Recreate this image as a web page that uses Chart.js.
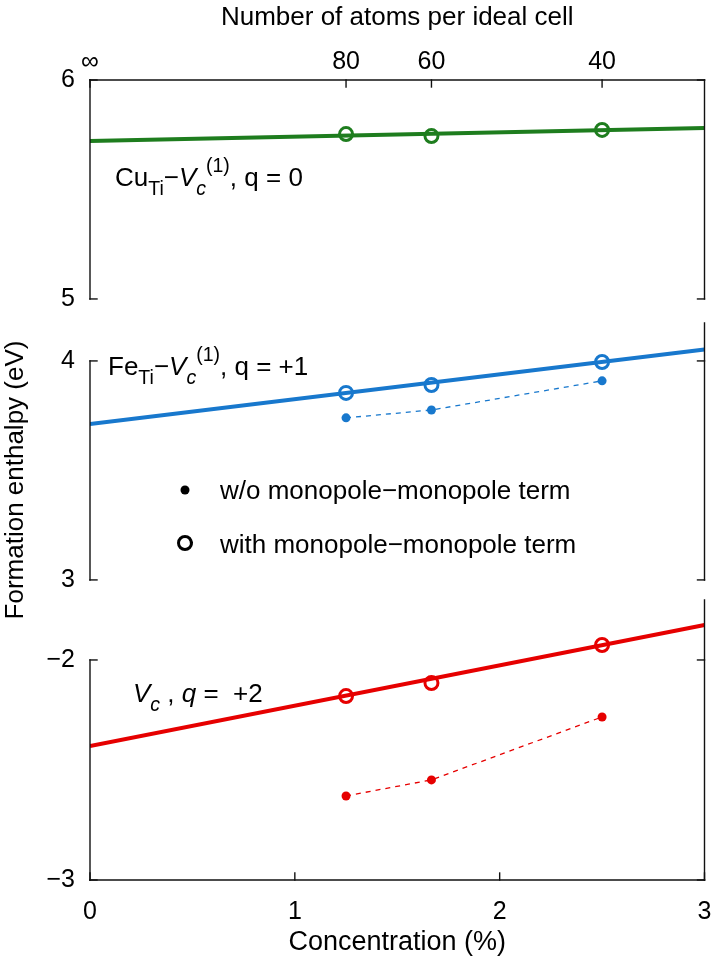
<!DOCTYPE html>
<html>
<head>
<meta charset="utf-8">
<script src="https://cdn.jsdelivr.net/npm/chart.js@4.4.1/dist/chart.umd.min.js"></script>
<style>
  html, body { margin: 0; padding: 0; background: #fff; }
  #chart { display: block; }
</style>
</head>
<body>
<canvas id="chart" width="714" height="963"></canvas>
<script>
// concentration (%) of the 80, 60 and 40 atom cells
const concentration = [1.25, 1.667, 2.5];
const fitX = [0, 3];

// top axis: number of atoms per ideal cell
const topTickPos = [0, 1.25, 1.667, 2.5];
const topTickLabels = ['\u221e', '80', '60', '40'];
const xTicks = [0, 1, 2, 3];

// Cu_Ti - Vc, q = 0
const cuTicks = [5, 6];
const cuWith = [5.753, 5.744, 5.772];
const cuFit = [5.721, 5.781];

// Fe_Ti - Vc, q = +1
const feTicks = [3, 4];
const feWith = [3.854, 3.890, 3.995];
const feWithout = [3.740, 3.776, 3.909];
const feFit = [3.712, 4.052];

// Vc, q = +2
const vcTicks = [-3, -2];
const vcWith = [-2.164, -2.105, -1.932];
const vcWithout = [-2.618, -2.545, -2.259];
const vcFit = [-2.391, -1.841];

const GREEN = '#1e7d1e';
const BLUE = '#1878cd';
const RED = '#e60000';
const FONT = '"Liberation Sans", Arial, Helvetica, sans-serif';

const pts = (xs, ys) => xs.map((x, i) => ({ x: x, y: ys[i] }));

function fitSet(data, axis, color) {
  return { data: data, yAxisID: axis, borderColor: color, borderWidth: 4, pointRadius: 0, fill: false };
}
function withSet(data, axis, color) {
  return { data: data, yAxisID: axis, showLine: false, pointRadius: 6.5, pointBorderWidth: 3,
    pointBorderColor: color, pointBackgroundColor: 'rgba(0,0,0,0)' };
}
function withoutSet(data, axis, color) {
  return { data: data, yAxisID: axis, borderColor: color, borderWidth: 1.3, borderDash: [5, 5],
    pointRadius: 4.5, pointBorderWidth: 0, pointBackgroundColor: color, fill: false };
}

function fixedTicks(values) {
  return scale => { scale.ticks = values.map(v => ({ value: v })); };
}
const minusLabel = v => (v < 0 ? '\u2212' + Math.abs(v) : String(v));

// keep the plot area at a fixed place: no extra room for half-labels
function fixSize(prop, size) {
  return s => {
    s[prop] = size;
    s.paddingLeft = 0; s.paddingRight = 0; s.paddingTop = 0; s.paddingBottom = 0;
  };
}

function yAxis(ticks, min, max, weight) {
  return {
    type: 'linear', position: 'left', stack: 'panels', stackWeight: weight,
    min: min, max: max,
    afterBuildTicks: fixedTicks(ticks),
    afterFit: fixSize('width', 90),
    grid: { display: false, drawTicks: false },
    border: { display: false },
    ticks: { color: '#000', padding: 15, font: { family: FONT, size: 25 }, callback: minusLabel }
  };
}

// panel frames (R style: left axis line spans the ticks, right border spans the panel)
const panels = [
  { axis: 'yCu', ticks: cuTicks, frameTop: 6, topBorder: true },
  { axis: 'yFe', ticks: feTicks, frameTop: 4.174 },
  { axis: 'yVc', ticks: vcTicks, frameTop: -1.727, bottomBorder: true }
];

// rich text pieces for panel labels
const panelLabels = [
  { axis: 'yCu', x: 0.122, y: 5.516, parts: [
    { t: 'Cu' }, { t: 'Ti', s: 'sub' }, { t: '\u2212' }, { t: 'V', i: true }, { t: 'c', i: true, s: 'sub' },
    { t: '(1)', s: 'sup' }, { t: ', q = 0' } ] },
  { axis: 'yFe', x: 0.088, y: 3.936, parts: [
    { t: 'Fe' }, { t: 'Ti', s: 'sub' }, { t: '\u2212' }, { t: 'V', i: true }, { t: 'c', i: true, s: 'sub' },
    { t: '(1)', s: 'sup' }, { t: ', q = +1' } ] },
  { axis: 'yVc', x: 0.21, y: -2.191, parts: [
    { t: 'V', i: true }, { t: 'c', i: true, s: 'sub' }, { t: ' , ' }, { t: 'q', i: true }, { t: ' =  +2' } ] }
];

function drawRich(ctx, x, y, parts, size) {
  let cx = x;
  ctx.textBaseline = 'alphabetic';
  ctx.textAlign = 'left';
  parts.forEach(p => {
    const sz = p.s ? size * 0.75 : size;
    ctx.font = (p.i ? 'italic ' : '') + sz + 'px ' + FONT;
    const dy = p.s === 'sub' ? size * 0.33 : (p.s === 'sup' ? -size * 0.52 : 0);
    ctx.fillText(p.t, cx, y + dy);
    cx += ctx.measureText(p.t).width;
  });
}

const decor = {
  id: 'decor',
  afterDraw(chart) {
    const { ctx, chartArea: a, scales } = chart;
    const tl = 7;
    ctx.save();
    ctx.strokeStyle = '#111';
    ctx.lineWidth = 1.4;
    ctx.lineCap = 'square';
    const line = (x1, y1, x2, y2) => { ctx.beginPath(); ctx.moveTo(x1, y1); ctx.lineTo(x2, y2); ctx.stroke(); };

    panels.forEach(p => {
      const ys = scales[p.axis];
      const top = ys.getPixelForValue(p.frameTop);
      const bottom = ys.getPixelForValue(Math.min(...p.ticks));
      const tickTop = ys.getPixelForValue(Math.max(...p.ticks));
      line(a.left, tickTop, a.left, bottom);
      line(a.right, top, a.right, bottom);
      p.ticks.forEach(t => {
        const py = ys.getPixelForValue(t);
        line(a.left, py, a.left + tl, py);
        line(a.right, py, a.right - tl, py);
      });
      if (p.topBorder) {
        line(a.left, top, a.right, top);
        topTickPos.forEach(v => {
          const px = scales.xTop.getPixelForValue(v);
          line(px, top, px, top + tl);
        });
      }
      if (p.bottomBorder) {
        line(a.left, bottom, a.right, bottom);
        xTicks.forEach(v => {
          const px = scales.x.getPixelForValue(v);
          line(px, bottom, px, bottom - tl);
        });
      }
    });

    // panel labels
    ctx.fillStyle = '#000';
    panelLabels.forEach(l => {
      drawRich(ctx, scales.x.getPixelForValue(l.x), scales[l.axis].getPixelForValue(l.y), l.parts, 26);
    });

    // legend
    const lx = 185, ly1 = 490, ly2 = 543, tx = 220;
    ctx.fillStyle = '#000';
    ctx.beginPath(); ctx.arc(lx, ly1, 4.5, 0, Math.PI * 2); ctx.fill();
    ctx.lineWidth = 3; ctx.strokeStyle = '#000';
    ctx.beginPath(); ctx.arc(lx, ly2, 6.5, 0, Math.PI * 2); ctx.stroke();
    ctx.font = '26px ' + FONT;
    ctx.textBaseline = 'middle';
    ctx.textAlign = 'left';
    ctx.fillText('w/o monopole\u2212monopole term', tx, ly1 + 2);
    ctx.fillText('with monopole\u2212monopole term', tx, ly2 + 3);

    // y title spanning the three panels
    ctx.translate(16, (a.top + a.bottom) / 2);
    ctx.rotate(-Math.PI / 2);
    ctx.textAlign = 'center';
    ctx.fillText('Formation enthalpy (eV)', 0, 0);
    ctx.restore();
  }
};

const ctx = document.getElementById('chart');

const chart = new Chart(ctx, {
  type: 'line',
  data: {
    datasets: [
      fitSet(pts(fitX, cuFit), 'yCu', GREEN),
      withSet(pts(concentration, cuWith), 'yCu', GREEN),
      fitSet(pts(fitX, feFit), 'yFe', BLUE),
      withSet(pts(concentration, feWith), 'yFe', BLUE),
      withoutSet(pts(concentration, feWithout), 'yFe', BLUE),
      fitSet(pts(fitX, vcFit), 'yVc', RED),
      withSet(pts(concentration, vcWith), 'yVc', RED),
      withoutSet(pts(concentration, vcWithout), 'yVc', RED)
    ]
  },
  options: {
    responsive: false,
    animation: false,
    devicePixelRatio: 1,
    events: [],
    layout: { padding: { left: 0, right: 9, top: 0, bottom: 0 } },
    plugins: { legend: { display: false }, tooltip: { enabled: false } },
    scales: {
      x: {
        type: 'linear', position: 'bottom', min: 0, max: 3,
        afterBuildTicks: fixedTicks(xTicks),
        afterFit: fixSize('height', 83),
        grid: { display: false, drawTicks: false },
        border: { display: false },
        ticks: { color: '#000', padding: 17, maxRotation: 0, autoSkip: false, font: { family: FONT, size: 25 } },
        title: { display: true, text: 'Concentration (%)', color: '#000',
          font: { family: FONT, size: 27 }, padding: { top: 0, bottom: 4 } }
      },
      xTop: {
        type: 'linear', position: 'top', min: 0, max: 3,
        afterBuildTicks: fixedTicks(topTickPos),
        afterFit: fixSize('height', 80),
        grid: { display: false, drawTicks: false },
        border: { display: false },
        ticks: { color: '#000', padding: 3, maxRotation: 0, autoSkip: false, font: { family: FONT, size: 25 },
          callback: (v, i) => topTickLabels[i] },
        title: { display: true, text: 'Number of atoms per ideal cell', color: '#000',
          font: { family: FONT, size: 26 }, padding: { top: 2, bottom: 0 } }
      },
      yVc: yAxis(vcTicks, -3, -1.682, 290),
      yFe: yAxis(feTicks, 2.954, 4.228, 279),
      yCu: yAxis(cuTicks, 4.945, 6, 231)
    }
  },
  plugins: [decor]
});
</script>
</body>
</html>
